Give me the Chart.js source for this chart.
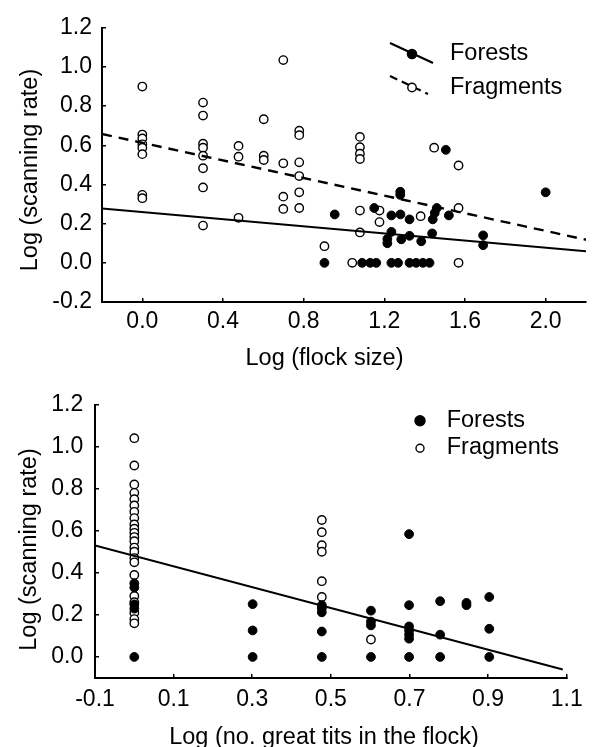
<!DOCTYPE html>
<html>
<head>
<meta charset="utf-8">
<script src="https://cdn.jsdelivr.net/npm/chart.js@4.4.0/dist/chart.umd.min.js"></script>
<style>
  html, body { margin: 0; padding: 0; background: #fff; }
  canvas { display: block; }
</style>
</head>
<body>
<canvas id="flockChart" width="595" height="375"></canvas>
<canvas id="titsChart" width="595" height="372"></canvas>
<script>
// top panel: log (flock size)
const flockFragX = [0, 0, 0, 0, 0, 0, 0, 0,
  0.301, 0.301, 0.301, 0.301, 0.301, 0.301, 0.301, 0.301,
  0.477, 0.477, 0.477, 0.602, 0.602, 0.602,
  0.699, 0.699, 0.699, 0.699,
  0.778, 0.778, 0.778, 0.778, 0.778, 0.778,
  0.903, 1.041,
  1.079, 1.079, 1.079, 1.079, 1.079, 1.079,
  1.176, 1.176, 1.38, 1.447, 1.568, 1.568, 1.568];
const flockFragY = [0.90, 0.655, 0.635, 0.605, 0.588, 0.555, 0.347, 0.33,
  0.818, 0.752, 0.608, 0.588, 0.547, 0.483, 0.385, 0.19,
  0.597, 0.542, 0.23, 0.733, 0.547, 0.525,
  1.035, 0.508, 0.338, 0.275,
  0.675, 0.652, 0.513, 0.443, 0.36, 0.28,
  0.085, 0.0,
  0.643, 0.59, 0.557, 0.53, 0.267, 0.155,
  0.267, 0.208, 0.238, 0.588, 0.497, 0.28, 0.0];

const flockForestX = [0.903, 0.954, 1.09, 1.13, 1.16, 1.15,
  1.235, 1.268, 1.325, 1.358, 1.391, 1.424,
  1.279, 1.279, 1.235, 1.28, 1.325, 1.44, 1.45, 1.46, 1.52, 1.505, 2.0,
  1.235, 1.215, 1.215, 1.284, 1.325, 1.383, 1.437, 1.69, 1.69];
const flockForestY = [0, 0.247, 0, 0, 0, 0.28,
  0, 0, 0, 0, 0, 0,
  0.363, 0.347, 0.242, 0.247, 0.222, 0.222, 0.255, 0.28, 0.242, 0.577, 0.36,
  0.158, 0.122, 0.10, 0.12, 0.138, 0.11, 0.15, 0.14, 0.09];

// regression lines: [intercept, slope]
const flockForestFit = [0.259, -0.091];
const flockFragFit = [0.613, -0.225];
const flockFitRange = [-0.2, 2.2];

const flockXTicks = [0, 0.4, 0.8, 1.2, 1.6, 2.0];
const flockYTicks = [-0.2, 0, 0.2, 0.4, 0.6, 0.8, 1.0, 1.2];

// bottom panel: log (no. great tits in the flock)
const titsFragX = [0, 0, 0, 0, 0, 0, 0, 0, 0, 0, 0, 0, 0, 0, 0, 0, 0, 0, 0, 0, 0, 0, 0,
  0.477, 0.477, 0.477, 0.477, 0.477, 0.477, 0.602];
const titsFragY = [1.04, 0.91, 0.82, 0.78, 0.75, 0.72, 0.69, 0.66, 0.63, 0.61, 0.59, 0.57,
  0.55, 0.52, 0.50, 0.47, 0.45, 0.39, 0.29, 0.26, 0.21, 0.18, 0.16,
  0.651, 0.593, 0.531, 0.50, 0.36, 0.285, 0.083];

const titsForestX = [0, 0, 0, 0, 0,
  0.301, 0.301, 0.301,
  0.477, 0.477, 0.477, 0.477, 0.477,
  0.602, 0.602, 0.602, 0.602,
  0.699, 0.699, 0.699, 0.699, 0.699, 0.699, 0.699,
  0.778, 0.778, 0.778, 0.845, 0.845,
  0.903, 0.903, 0.903];
const titsForestY = [0.35, 0.33, 0.25, 0.23, 0,
  0.251, 0.126, 0,
  0.246, 0.231, 0.212, 0.121, 0,
  0.22, 0.168, 0.15, 0,
  0.584, 0.246, 0.145, 0.126, 0.106, 0.087, 0,
  0.265, 0.106, 0, 0.257, 0.246,
  0.285, 0.134, 0];

const titsFit = [0.48, -0.495];
const titsFitRange = [-0.1, 1.09];

const titsXTicks = [-0.1, 0.1, 0.3, 0.5, 0.7, 0.9, 1.1];
const titsYTicks = [0, 0.2, 0.4, 0.6, 0.8, 1.0, 1.2];

const FONT = '"Liberation Sans", Arial, sans-serif';
const tickFont = { family: FONT, size: 23 };
const titleFont = '23.5px ' + FONT;

function toPoints(xs, ys) {
  return xs.map((x, i) => ({ x: x, y: ys[i] }));
}

function fitLine(coef, range) {
  return range.map(x => ({ x: x, y: coef[0] + coef[1] * x }));
}

function lineSet(data, dash, width) {
  return { data: data, showLine: true, borderColor: '#000', borderWidth: width,
    borderDash: dash, pointRadius: 0, fill: false };
}

function openSet(data) {
  return { data: data, backgroundColor: '#fff', borderColor: '#000',
    borderWidth: 1.4, pointRadius: 4.2 };
}

function filledSet(data) {
  return { data: data, backgroundColor: '#000', borderColor: '#000',
    borderWidth: 1, pointRadius: 4.4 };
}

function axis(min, max, ticks, size, pad) {
  return {
    type: 'linear', min: min, max: max,
    afterBuildTicks: s => { s.ticks = ticks.map(v => ({ value: v })); },
    afterFit: s => { if (s.isHorizontal()) s.height = size; else s.width = size; },
    grid: { drawOnChartArea: false, drawTicks: true, tickLength: -4, color: '#000', lineWidth: 1.5 },
    border: { color: '#000', width: 2 },
    ticks: { color: '#000', font: tickFont, padding: pad, autoSkip: false, maxRotation: 0,
      callback: v => v.toFixed(1) }
  };
}

// axis titles and the legend are drawn by hand so they sit where the original puts them
const decor = {
  id: 'decor',
  afterDraw(chart, args, o) {
    const ctx = chart.ctx;
    ctx.save();
    ctx.fillStyle = '#000';
    ctx.strokeStyle = '#000';
    ctx.font = titleFont;
    ctx.textBaseline = 'alphabetic';
    ctx.textAlign = 'center';
    ctx.fillText(o.xTitle, o.xTitleAt[0], o.xTitleAt[1]);
    ctx.save();
    ctx.translate(o.yTitleAt[0], o.yTitleAt[1]);
    ctx.rotate(-Math.PI / 2);
    ctx.fillText(o.yTitle, 0, 0);
    ctx.restore();

    o.legend.forEach(item => {
      if (item.line) {
        ctx.lineWidth = 2.2;
        ctx.setLineDash(item.dash || []);
        ctx.beginPath();
        ctx.moveTo(item.line[0], item.line[1]);
        ctx.lineTo(item.line[2], item.line[3]);
        ctx.stroke();
        ctx.setLineDash([]);
      }
      ctx.beginPath();
      ctx.arc(item.marker[0], item.marker[1], item.r, 0, Math.PI * 2);
      ctx.fillStyle = item.filled ? '#000' : '#fff';
      ctx.fill();
      ctx.lineWidth = 1.4;
      ctx.stroke();
      ctx.fillStyle = '#000';
      ctx.textAlign = 'left';
      ctx.textBaseline = 'middle';
      ctx.fillText(item.label, item.text[0], item.text[1]);
    });
    ctx.restore();
  }
};

new Chart(document.getElementById('flockChart'), {
  type: 'scatter',
  data: {
    datasets: [
      lineSet(fitLine(flockForestFit, flockFitRange), [], 2),
      lineSet(fitLine(flockFragFit, flockFitRange), [10, 7], 2.4),
      filledSet(toPoints(flockForestX, flockForestY)),
      openSet(toPoints(flockFragX, flockFragY))
    ]
  },
  options: {
    responsive: false,
    devicePixelRatio: 1,
    animation: false,
    events: [],
    layout: { padding: { left: 0, right: 9, top: 22, bottom: 0 } },
    scales: {
      x: axis(-0.2, 2.2, flockXTicks, 73, 10),
      y: axis(-0.2, 1.2, flockYTicks, 102, 14)
    },
    plugins: {
      legend: { display: false },
      tooltip: { enabled: false },
      decor: {
        xTitle: 'Log (flock size)', xTitleAt: [324.5, 364.5],
        yTitle: 'Log (scanning rate)', yTitleAt: [37, 170],
        legend: [
          { label: 'Forests', filled: true, r: 4.6, line: [390, 43, 433, 63], marker: [412, 54], text: [450, 54] },
          { label: 'Fragments', filled: false, r: 4.2, line: [390, 76, 428, 94], dash: [8, 5], marker: [412, 87.5], text: [450, 87.5] }
        ]
      }
    }
  },
  plugins: [decor]
});

new Chart(document.getElementById('titsChart'), {
  type: 'scatter',
  data: {
    datasets: [
      lineSet(fitLine(titsFit, titsFitRange), [], 2),
      filledSet(toPoints(titsForestX, titsForestY)),
      openSet(toPoints(titsFragX, titsFragY))
    ]
  },
  options: {
    responsive: false,
    devicePixelRatio: 1,
    animation: false,
    events: [],
    layout: { padding: { left: 0, right: 19, top: 25, bottom: 0 } },
    scales: {
      x: axis(-0.1, 1.1, titsXTicks, 69, 12.3),
      y: axis(-0.1, 1.2, titsYTicks, 95, 15.7)
    },
    plugins: {
      legend: { display: false },
      tooltip: { enabled: false },
      decor: {
        xTitle: 'Log (no. great tits in the flock)', xTitleAt: [324, 368.5],
        yTitle: 'Log (scanning rate)', yTitleAt: [35.5, 174.5],
        legend: [
          { label: 'Forests', filled: true, r: 5, marker: [420, 45.7], text: [446.7, 46] },
          { label: 'Fragments', filled: false, r: 4, marker: [420, 73.3], text: [446.7, 73] }
        ]
      }
    }
  },
  plugins: [decor]
});
</script>
</body>
</html>
